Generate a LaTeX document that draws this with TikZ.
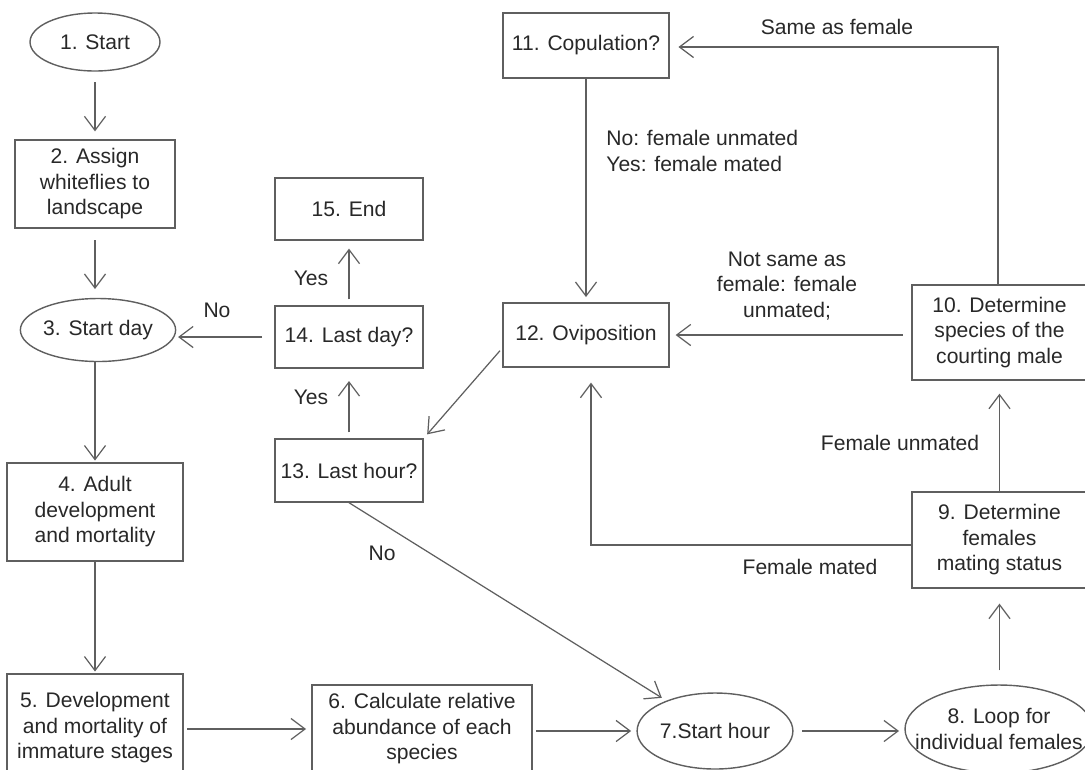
\documentclass[tikz,border=0pt]{standalone}
\usepackage{fontspec}
\setmainfont{Liberation Sans}
\usetikzlibrary{shapes.geometric,arrows.meta}
\definecolor{linec}{RGB}{95,95,95}
\definecolor{textc}{RGB}{40,40,40}
\begin{document}
\begin{tikzpicture}[x=0.02cm,y=-0.02cm,
  every node/.style={text=textc,font=\fontsize{12}{14.5}\selectfont},
  box/.style={draw=linec,line width=0.8pt,rectangle,inner sep=0pt,align=center},
  oval/.style={draw=linec,line width=0.8pt,ellipse,inner sep=0pt,align=center},
  arr/.style={draw=linec,line width=0.7pt,-{Straight Barb[length=8pt,width=12pt,line width=0.7pt]}},
  lbl/.style={inner sep=0pt,align=center}]
\useasboundingbox (0,0) rectangle (1085,769);
% nodes
\node[oval,minimum width=2.6cm,minimum height=1.16cm] (n1) at (95,42) {1. Start};
\node[box,minimum width=3.2cm,minimum height=1.76cm] (n2) at (95,184) {2. Assign\\whiteflies to\\landscape};
\node[oval,minimum width=3.0cm,minimum height=1.26cm] (n3) at (98,330) {3. Start day};
\node[box,minimum width=3.52cm,minimum height=1.96cm] (n4) at (95,512) {4. Adult\\development\\and mortality};
\node[box,minimum width=3.52cm,minimum height=2.16cm] (n5) at (95,728) {5. Development\\and mortality of\\immature stages};
\node[box,minimum width=4.4cm,minimum height=1.76cm] (n6) at (422,729) {6. Calculate relative\\abundance of each\\species};
\node[oval,minimum width=2.92cm,minimum height=1.52cm] (n7) at (715,731) {7.Start hour};
\node[oval,inner xsep=-10.5pt,minimum width=3.76cm,minimum height=1.76cm] (n8) at (999,729) {8. Loop for\\individual females};
\node[box,minimum width=3.5cm,minimum height=1.92cm] (n9) at (999.5,540) {9. Determine\\females\\mating status};
\node[box,minimum width=3.5cm,minimum height=1.9cm] (n10) at (999.5,332.5) {10. Determine\\species of the\\courting male};
\node[box,minimum width=3.32cm,minimum height=1.3cm] (n11) at (586,45.5) {11. Copulation?};
\node[box,minimum width=3.32cm,minimum height=1.28cm] (n12) at (586,335) {12. Oviposition};
\node[box,minimum width=2.96cm,minimum height=1.26cm] (n13) at (349,470.5) {13. Last hour?};
\node[box,minimum width=2.96cm,minimum height=1.24cm] (n14) at (349,337) {14. Last day?};
\node[box,minimum width=2.96cm,minimum height=1.24cm] (n15) at (349,209) {15. End};
% helper coordinates
\coordinate (c9) at (591,545);
\coordinate (c10) at (998,47);
% connectors
\draw[arr,shorten <=6pt,shorten >=4.5pt] (n1.south) -- (n2.north);
\draw[arr,shorten <=6.5pt,shorten >=5pt] (n2.south) -- (n3.north -| n2.south);
\draw[arr,shorten >=1pt] (n3.south -| n4.north) -- (n4.north);
\draw[arr,shorten >=1pt] (n4.south) -- (n5.north);
\draw[arr,shorten <=2pt,shorten >=3pt] (n5.east |- n6.west) -- (n6.west);
\draw[arr,shorten <=2pt,shorten >=3pt] (n6.east |- n7.west) -- (n7.west);
\draw[arr,shorten <=5pt,shorten >=3pt] (n7.east) -- (n8.west |- n7.east);
\draw[arr,shorten <=8pt,shorten >=8.5pt] (n8.north -| n9.south) -- (n9.south);
\draw[arr,shorten >=7.4pt] (n9.north) -- (n10.south);
\draw[arr,shorten >=8.5pt] (c9 -| n9.west) -- (c9) -- (c9 |- n12.south);
\draw[arr,shorten <=5pt,shorten >=3.4pt] (n12.east -| n10.west) -- (n12.east);
\draw[arr,shorten >=5pt] (c10 |- n10.north) -- (c10) -- (c10 -| n11.east);
\draw[arr,shorten >=3pt] (n11.south) -- (n12.north);
\draw[arr,shorten <=2pt,shorten >=3pt] ([yshift=-7.4pt]n12.west) -- (n13.north east);
\draw[arr,shorten <=3.4pt,shorten >=7pt] (n13.north) -- (n14.south);
\draw[arr,shorten <=3.4pt,shorten >=4.5pt] (n14.north) -- (n15.south);
\draw[arr,shorten <=7pt,shorten >=1pt] (n14.west) -- (n14.west -| n3.east);
\draw[arr,shorten >=3pt] (n13.south) -- (n7);
% labels
\node[lbl] (l1) at (217,310) {No};
\node[lbl] (l2) at (311,278) {Yes};
\node[lbl] (l3) at (311,397) {Yes};
\node[lbl] (l4) at (382,553) {No};
\node[lbl,anchor=west,align=left] (l5) at (606,151) {No: female unmated\\Yes: female mated};
\node[lbl] (l6) at (837,27) {Same as female};
\node[lbl] (l7) at (787,286) {Not same as\\female: female\\unmated;};
\node[lbl] (l8) at (900,443) {Female unmated};
\node[lbl] (l9) at (810,567) {Female mated};
\end{tikzpicture}
\end{document}
